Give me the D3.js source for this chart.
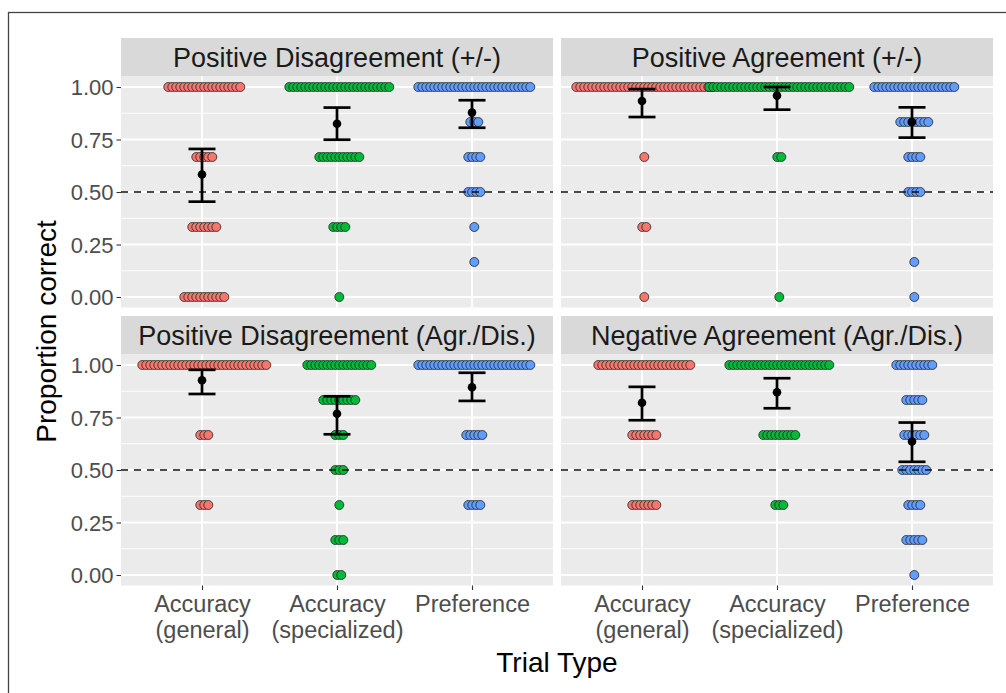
<!DOCTYPE html>
<html><head><meta charset="utf-8">
<script src="https://cdn.jsdelivr.net/npm/d3@7"></script>
<style>
html,body{margin:0;padding:0;background:#fff;}
text{font-family:"Liberation Sans",Arial,Helvetica,sans-serif;}
</style></head>
<body><svg id="chart" width="1006" height="693"></svg>
<script>
// ---------------- data ----------------
const panelTitles = ["Positive Disagreement (+/-)", "Positive Agreement (+/-)",
                     "Positive Disagreement (Agr./Dis.)", "Negative Agreement (Agr./Dis.)"];
const trialTypes = ["Accuracy (general)", "Accuracy (specialized)", "Preference"];
const trialLabels = [["Accuracy", "(general)"], ["Accuracy", "(specialized)"], ["Preference"]];
const typeColors = ["#F8766D", "#00BA38", "#619CFF"];
const levels = [0, 1/6, 2/6, 3/6, 4/6, 5/6, 1];
const yTicks = [0, 0.25, 0.5, 0.75, 1];
const chanceLevel = 0.5;

// number of participants at each level (levels order), per trial type
const countsPosDisPM   = [[11,0,7,0,5,0,19], [1,0,4,0,11,0,26], [0,1,1,4,4,3,29]];
const countsPosAgrPM   = [[1,0,2,0,1,0,35],  [1,0,0,0,2,0,36],  [1,1,0,4,4,8,21]];
const countsPosDisAD   = [[0,0,3,0,3,0,32],  [2,3,1,3,3,9,17],  [0,0,4,0,5,0,29]];
const countsNegAgrAD   = [[0,0,7,0,7,0,24],  [0,0,3,0,9,0,26],  [1,5,4,7,6,5,10]];

// means and 95% CI per trial type
const meansPosDisPM = [0.583, 0.825, 0.878], loPosDisPM = [0.454, 0.749, 0.806], hiPosDisPM = [0.705, 0.902, 0.937];
const meansPosAgrPM = [0.933, 0.959, 0.833], loPosAgrPM = [0.857, 0.892, 0.759], hiPosAgrPM = [0.990, 1.000, 0.903];
const meansPosDisAD = [0.927, 0.768, 0.894], loPosDisAD = [0.862, 0.670, 0.829], hiPosDisAD = [0.977, 0.851, 0.963];
const meansNegAgrAD = [0.820, 0.870, 0.636], loNegAgrAD = [0.737, 0.794, 0.539], hiNegAgrAD = [0.896, 0.937, 0.726];

const panelCounts = [countsPosDisPM, countsPosAgrPM, countsPosDisAD, countsNegAgrAD];
const panelMeans = [meansPosDisPM, meansPosAgrPM, meansPosDisAD, meansNegAgrAD];
const panelLo = [loPosDisPM, loPosAgrPM, loPosDisAD, loNegAgrAD];
const panelHi = [hiPosDisPM, hiPosAgrPM, hiPosDisAD, hiNegAgrAD];

// ---------------- layout ----------------
const svg = d3.select("#chart");
const colLeft = [121, 561];
const rowStripTop = [38, 316];
const stripH = 38.5, panelW = 432, panelH = 231;
const dotR = 4.5, dotStep = 4, dotShift = 2.3;
const axisFont = 22, stripFont = 27, titleFont = 28;

svg.append("rect").attr("x", 8.5).attr("y", 12.5).attr("width", 1010).attr("height", 700)
  .attr("fill", "none").attr("stroke", "#444").attr("stroke-width", 1.3);

panelTitles.forEach((title, p) => {
  const col = p % 2, row = Math.floor(p / 2);
  const left = colLeft[col], stripTop = rowStripTop[row], top = stripTop + stripH;
  const x = d3.scalePoint().domain(trialTypes).range([left, left + panelW]).padding(0.6);
  const y = d3.scaleLinear().domain([-0.05, 1.05]).range([top + panelH, top]);
  const g = svg.append("g");

  // strip
  g.append("rect").attr("x", left).attr("y", stripTop).attr("width", panelW).attr("height", stripH).attr("fill", "#D9D9D9");
  g.append("text").attr("x", left + panelW / 2).attr("y", stripTop + stripH / 2 + 9.5)
    .attr("text-anchor", "middle").attr("font-size", stripFont).attr("fill", "#1A1A1A").text(title);

  // panel background & grid
  g.append("rect").attr("x", left).attr("y", top).attr("width", panelW).attr("height", panelH).attr("fill", "#EBEBEB");
  const minor = d3.range(0, yTicks.length - 1).map(i => (yTicks[i] + yTicks[i + 1]) / 2);
  g.selectAll(".minor").data(minor).enter().append("line")
    .attr("x1", left).attr("x2", left + panelW).attr("y1", d => y(d)).attr("y2", d => y(d))
    .attr("stroke", "#fff").attr("stroke-width", 0.9);
  g.selectAll(".major").data(yTicks).enter().append("line")
    .attr("x1", left).attr("x2", left + panelW).attr("y1", d => y(d)).attr("y2", d => y(d))
    .attr("stroke", "#fff").attr("stroke-width", 1.9);
  g.selectAll(".vmajor").data(trialTypes).enter().append("line")
    .attr("x1", d => x(d)).attr("x2", d => x(d)).attr("y1", top).attr("y2", top + panelH)
    .attr("stroke", "#fff").attr("stroke-width", 1.9);

  // dots
  trialTypes.forEach((t, k) => {
    levels.forEach((lv, li) => {
      const n = panelCounts[p][k][li];
      for (let i = 0; i < n; i++) {
        g.append("circle")
          .attr("cx", x(t) + dotShift + (i - (n - 1) / 2) * dotStep)
          .attr("cy", y(lv)).attr("r", dotR)
          .attr("fill", typeColors[k]).attr("stroke", "#222").attr("stroke-width", 0.8);
      }
    });
  });

  // chance line
  g.append("line").attr("x1", left).attr("x2", left + panelW).attr("y1", y(chanceLevel)).attr("y2", y(chanceLevel))
    .attr("stroke", "#111").attr("stroke-width", 1.4).attr("stroke-dasharray", "7,6");

  // error bars and means
  trialTypes.forEach((t, k) => {
    const cx = x(t), capW = 13.5;
    g.append("line").attr("x1", cx).attr("x2", cx).attr("y1", y(panelLo[p][k])).attr("y2", y(panelHi[p][k]))
      .attr("stroke", "#000").attr("stroke-width", 2.7);
    [panelLo[p][k], panelHi[p][k]].forEach(v => {
      g.append("line").attr("x1", cx - capW).attr("x2", cx + capW).attr("y1", y(v)).attr("y2", y(v))
        .attr("stroke", "#000").attr("stroke-width", 2.7);
    });
    g.append("circle").attr("cx", cx).attr("cy", y(panelMeans[p][k])).attr("r", 4.3).attr("fill", "#000");
  });

  // y axis (left column only)
  if (col === 0) {
    const ax = g.append("g").attr("transform", `translate(${left},0)`)
      .call(d3.axisLeft(y).tickValues(yTicks).tickFormat(d3.format(".2f")).tickSize(4.5).tickPadding(3));
    ax.select(".domain").remove();
    ax.selectAll(".tick line").attr("stroke", "#333").attr("stroke-width", 1.1);
    ax.selectAll(".tick text").attr("font-size", axisFont).attr("fill", "#4D4D4D")
      .attr("font-family", "'Liberation Sans', Arial, sans-serif").attr("dy", "0.36em");
  }
  // x axis (bottom row only)
  if (row === 1) {
    const ax = g.append("g").attr("transform", `translate(0,${top + panelH})`)
      .call(d3.axisBottom(x).tickSize(4.5).tickFormat(""));
    ax.select(".domain").remove();
    ax.selectAll(".tick line").attr("stroke", "#333").attr("stroke-width", 1.1);
    ax.selectAll(".tick").each(function (d, k) {
      const tx = d3.select(this).append("text").attr("text-anchor", "middle")
        .attr("font-size", 23.5).attr("fill", "#4D4D4D")
        .attr("font-family", "'Liberation Sans', Arial, sans-serif");
      trialLabels[k].forEach((line, li) => {
        tx.append("tspan").attr("x", 0).attr("y", 26 + li * 26).text(line);
      });
    });
  }
});

// axis titles
svg.append("text").attr("x", 557).attr("y", 672).attr("text-anchor", "middle")
  .attr("font-size", titleFont).attr("fill", "#000").text("Trial Type");
svg.append("text").attr("transform", "translate(56,331.5) rotate(-90)").attr("text-anchor", "middle")
  .attr("font-size", titleFont).attr("fill", "#000").text("Proportion correct");
</script></body></html>
